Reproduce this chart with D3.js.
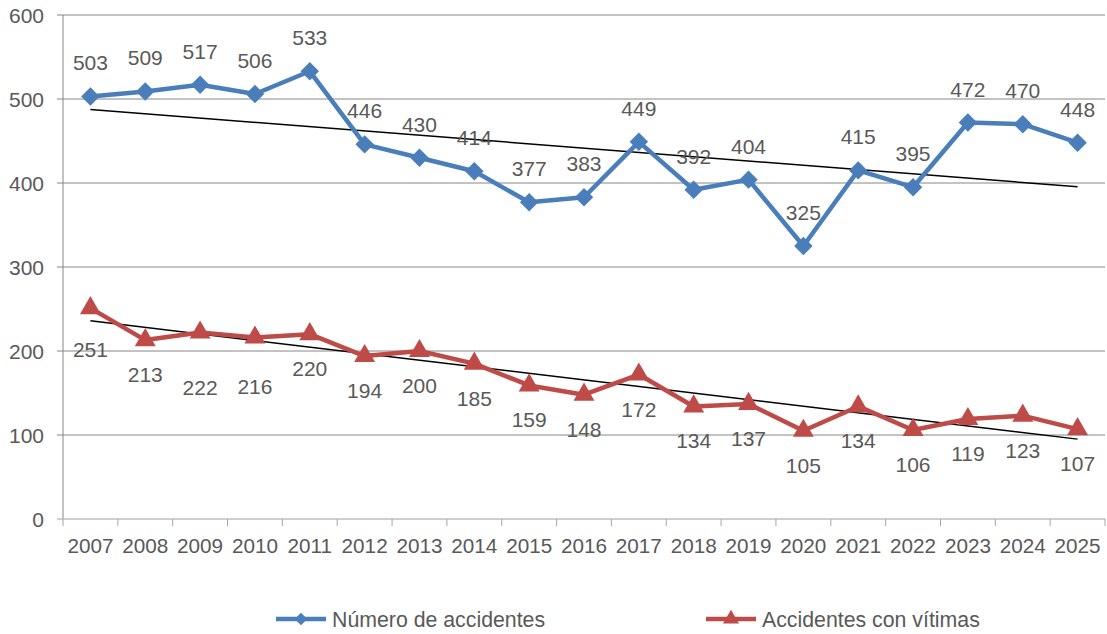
<!DOCTYPE html>
<html lang="es">
<head>
<meta charset="utf-8">
<title>Accidentes</title>
<script src="https://cdn.jsdelivr.net/npm/d3@7"></script>
<style>
  body { margin: 0; background: #fff; }
  text { font-family: "Liberation Sans", Arial, sans-serif; fill: #595959; font-size: 21px; }
</style>
</head>
<body>
<script>
var years = ["2007","2008","2009","2010","2011","2012","2013","2014","2015","2016","2017","2018","2019","2020","2021","2022","2023","2024","2025"];
var accidentes = [503,509,517,506,533,446,430,414,377,383,449,392,404,325,415,395,472,470,448];
var vitimas = [251,213,222,216,220,194,200,185,159,148,172,134,137,105,134,106,119,123,107];
var yTicks = [0,100,200,300,400,500,600];
// extra downward shift of a few hand-placed labels (px)
var vitimasNudge = [7,0,20,14,0,0,0,0,0,0,0,0,0,0,0,0,0,0,0];

var w = 1107, h = 634;
var mLeft = 63, mRight = 1105, mTop = 15, mBottom = 519;
var blue = "#4a7ebb", red = "#be4b48";

var svg = d3.select("body").append("svg").attr("width", w).attr("height", h);

var x = d3.scaleBand().domain(years).range([mLeft, mRight]);
var y = d3.scaleLinear().domain([0, 600]).range([mBottom, mTop]);
function cx(d) { return x(d) + x.bandwidth() / 2; }

// gridlines
svg.append("g").selectAll("line").data(yTicks.slice(1)).enter().append("line")
  .attr("x1", mLeft - 6).attr("x2", mRight)
  .attr("y1", function(d) { return y(d); }).attr("y2", function(d) { return y(d); })
  .attr("stroke", "#868686").attr("stroke-width", 1);

// y axis
svg.append("line").attr("x1", mLeft).attr("x2", mLeft).attr("y1", mTop).attr("y2", mBottom)
  .attr("stroke", "#868686");
svg.append("g").selectAll("text").data(yTicks).enter().append("text")
  .attr("x", mLeft - 19).attr("y", function(d) { return y(d) + 8; })
  .attr("text-anchor", "end")
  .text(function(d) { return d; });

// x axis
svg.append("line").attr("x1", mLeft - 6).attr("x2", mRight).attr("y1", mBottom).attr("y2", mBottom)
  .attr("stroke", "#bfbfbf").attr("stroke-width", 1.5);
var edges = years.map(function(d) { return x(d); }).concat([mRight]);
svg.append("g").selectAll("line").data(edges).enter().append("line")
  .attr("x1", function(d) { return d; }).attr("x2", function(d) { return d; })
  .attr("y1", mBottom).attr("y2", mBottom + 7)
  .attr("stroke", "#a6a6a6");
svg.append("g").selectAll("text").data(years).enter().append("text")
  .attr("x", cx).attr("y", mBottom + 34)
  .attr("text-anchor", "middle").style("font-size", "20.7px")
  .text(function(d) { return d; });

// trend lines (least squares)
function trend(vals) {
  var n = vals.length, mx = (n - 1) / 2, my = d3.mean(vals), sxy = 0, sxx = 0;
  vals.forEach(function(v, i) { sxy += (i - mx) * (v - my); sxx += (i - mx) * (i - mx); });
  var b = sxy / sxx;
  return [my - b * mx, my + b * (n - 1 - mx)];
}
[accidentes, vitimas].forEach(function(vals) {
  var t = trend(vals);
  svg.append("line")
    .attr("x1", cx(years[0])).attr("y1", y(t[0]))
    .attr("x2", cx(years[years.length - 1])).attr("y2", y(t[1]))
    .attr("stroke", "#000").attr("stroke-width", 1.5);
});

var line = d3.line().x(function(d, i) { return cx(years[i]); }).y(function(d) { return y(d); });

function series(vals, color, symbol, size, dy, nudge) {
  svg.append("path").datum(vals).attr("d", line)
    .attr("fill", "none").attr("stroke", color).attr("stroke-width", 4.5)
    .attr("stroke-linejoin", "round");
  svg.append("g").selectAll("path").data(vals).enter().append("path")
    .attr("d", d3.symbol().type(symbol).size(size))
    .attr("transform", function(d, i) { return "translate(" + cx(years[i]) + "," + y(d) + ")" + (symbol === d3.symbolSquare ? " rotate(45)" : ""); })
    .attr("fill", color);
  svg.append("g").selectAll("text").data(vals).enter().append("text")
    .attr("x", function(d, i) { return cx(years[i]); })
    .attr("y", function(d, i) { return y(d) + dy + (nudge ? nudge[i] : 0); })
    .attr("text-anchor", "middle")
    .text(function(d) { return d; });
}
series(accidentes, blue, d3.symbolSquare, 170, -26);
series(vitimas, red, d3.symbolTriangle, 190, 42, vitimasNudge);

// legend
var legend = [
  { name: "Número de accidentes", color: blue, symbol: d3.symbolSquare, size: 80, x: 276 },
  { name: "Accidentes con vítimas", color: red, symbol: d3.symbolTriangle, size: 110, x: 706 }
];
var lg = svg.append("g").selectAll("g").data(legend).enter().append("g")
  .attr("transform", function(d) { return "translate(" + d.x + ",619)"; });
lg.append("line").attr("x1", 0).attr("x2", 50).attr("stroke", function(d) { return d.color; })
  .attr("stroke-width", 4.5);
lg.append("path").attr("d", function(d) { return d3.symbol().type(d.symbol).size(d.size)(); })
  .attr("transform", function(d) { return "translate(25,0)" + (d.symbol === d3.symbolSquare ? " rotate(45)" : ""); })
  .attr("fill", function(d) { return d.color; });
lg.append("text").attr("x", 56).attr("y", 8).style("font-size", "21.3px")
  .text(function(d) { return d.name; });
</script>
</body>
</html>
